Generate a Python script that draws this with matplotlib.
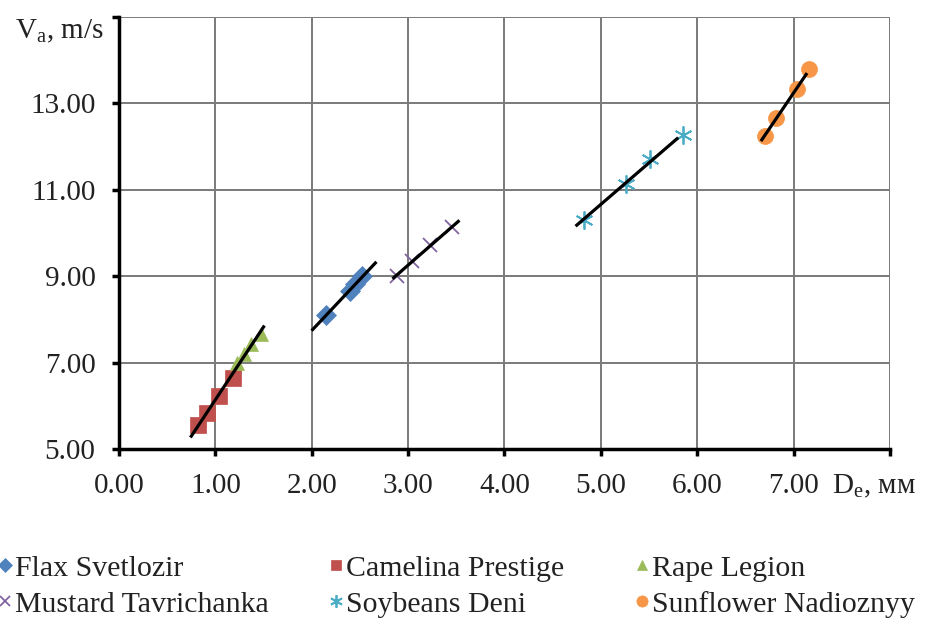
import numpy as np
import matplotlib
matplotlib.use('Agg')
from matplotlib import pyplot as plt
from matplotlib.legend import Legend

plt.rcParams['font.family'] = ['Liberation Serif', 'DejaVu Serif']
plt.rcParams['mathtext.fontset'] = 'custom'
plt.rcParams['mathtext.rm'] = 'Liberation Serif'

# data
flax_x = [2.15, 2.40, 2.45, 2.52]
flax_y = [8.11, 8.65, 8.81, 9.00]
camelina_x = [0.82, 0.91, 1.04, 1.18]
camelina_y = [5.56, 5.83, 6.23, 6.64]
rape_x = [1.22, 1.30, 1.37, 1.47]
rape_y = [6.98, 7.20, 7.43, 7.67]
mustard_x = [2.88, 3.04, 3.23, 3.46]
mustard_y = [9.00, 9.35, 9.73, 10.13]
soy_x = [4.82, 5.26, 5.51, 5.85]
soy_y = [10.31, 11.13, 11.72, 12.26]
sun_x = [6.70, 6.82, 7.04, 7.16]
sun_y = [12.25, 12.67, 13.34, 13.79]

# trendline extents (x from, x to)
trend_flax = [2.01, 2.66]
trend_cam_rape = [0.75, 1.50]
trend_mustard = [2.85, 3.52]
trend_soy = [4.75, 5.79]
trend_sun = [6.67, 7.13]

fig = plt.figure(figsize=(9.49, 6.25), dpi=100)
ax = fig.add_axes([0.1254, 0.2816, 0.8124, 0.6912])

series = [
  ('Flax Svetlozir', flax_x, flax_y, 'D', '#4F81BD', 10.5),
  ('Camelina Prestige', camelina_x, camelina_y, 's', '#C0504D', 11),
  ('Rape Legion', rape_x, rape_y, '^', '#9BBB59', 10.5),
  ('Mustard Tavrichanka', mustard_x, mustard_y, 'x', '#8064A2', 10.5),
  ('Soybeans Deni', soy_x, soy_y, (6, 2, 0), '#4BACC6', 13),
  ('Sunflower Nadioznyy', sun_x, sun_y, 'o', '#F79646', 11.5),
]
handles = {}
for name, xs, ys, mk, col, size in series:
  h, = ax.plot(xs, ys, linestyle='none', marker=mk, color=col, markersize=size,
               markeredgewidth=1.3 if mk in ('x', (6, 2, 0)) else 0.5,
               markeredgecolor=col, label=name, zorder=3)
  handles[name] = h

def trend(xs, ys, rng):
  k, b = np.polyfit(xs, ys, 1)
  xx = np.array(rng)
  ax.plot(xx, k * xx + b, color='black', lw=2.3, zorder=4)

trend(flax_x, flax_y, trend_flax)
trend(camelina_x + rape_x, camelina_y + rape_y, trend_cam_rape)
trend(mustard_x, mustard_y, trend_mustard)
trend(soy_x, soy_y, trend_soy)
trend(sun_x, sun_y, trend_sun)

ax.set_xlim(0, 8)
ax.set_ylim(5, 15)
ax.set_xticks(np.arange(0, 9, 1))
ax.set_xticklabels(['%.2f' % v for v in range(8)] + [''])
ax.set_yticks(np.arange(5, 16, 2))
ax.set_yticklabels(['%.2f' % v for v in range(5, 15, 2)] + [''])
ax.grid(True, color='#7a7a7a', lw=1.4)
ax.set_axisbelow(True)
for s in ['top', 'right']:
  ax.spines[s].set_visible(False)
for s in ['left', 'bottom']:
  ax.spines[s].set_linewidth(2.5)
  ax.spines[s].set_color('black')
ax.tick_params(direction='out', length=5, width=2.5, labelsize=21,
               labelcolor='#222222')
ax.tick_params(axis='x', pad=12.5)
ax.tick_params(axis='y', pad=12)

fig.text(0.016, 1 - 38 / 625, r'V$_\mathrm{a}$, m/s', fontsize=21, va='baseline', color='#222222')
fig.text(832 / 949, 1 - 493 / 625, r'D$_\mathrm{e}$, мм', fontsize=21, va='baseline', color='#222222')

# legend: three columns, two rows
cols = [['Flax Svetlozir', 'Mustard Tavrichanka'],
        ['Camelina Prestige', 'Soybeans Deni'],
        ['Rape Legion', 'Sunflower Nadioznyy']]
col_x = [-1, 330, 636]
for names, x0 in zip(cols, col_x):
  leg = Legend(fig, [handles[n] for n in names], names, loc='upper left',
               bbox_to_anchor=(x0 / 949, 1 - 555 / 625), frameon=False,
               prop={'family': ['Liberation Serif'], 'size': 21.5},
               handlelength=0.4, handletextpad=0.15, borderpad=0, borderaxespad=0,
               labelspacing=0.3, markerscale=0.7)
  for t in leg.get_texts():
    t.set_color('#222222')
  fig.legends.append(leg)

fig.savefig('out.png', dpi=100)
